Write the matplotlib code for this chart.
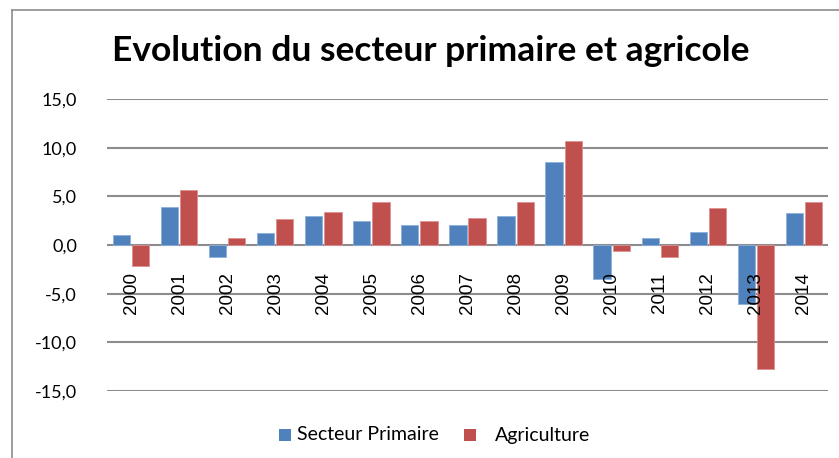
import numpy as np
import matplotlib
matplotlib.use("Agg")
import matplotlib.pyplot as plt
from matplotlib.lines import Line2D
from matplotlib.patches import Rectangle

# données
annees = ["2000", "2001", "2002", "2003", "2004", "2005", "2006", "2007",
          "2008", "2009", "2010", "2011", "2012", "2013", "2014"]
secteur_primaire = [1.0, 3.9, -1.2, 1.2, 3.0, 2.5, 2.1, 2.1, 3.0, 8.5, -3.5, 0.7, 1.35, -6.05, 3.25]
agriculture = [-2.2, 5.7, 0.7, 2.65, 3.4, 4.4, 2.45, 2.8, 4.4, 10.7, -0.6, -1.2, 3.8, -12.7, 4.4]
yticks = [-15, -10, -5, 0, 5, 10, 15]

W, H = 839, 458
px = 72 / 100  # pixels -> points
fig = plt.figure(figsize=(W / 100, H / 100), dpi=100)
ax = fig.add_axes([107 / W, (H - 391) / H, (828 - 107) / W, (391 - 99) / H])

x = np.arange(len(annees))
larg = 0.36
ax.bar(x - 0.2, secteur_primaire, larg, color="#4F81BD", edgecolor="#8DB0DA", linewidth=0.6, zorder=3)
ax.bar(x + 0.2, agriculture, larg, color="#C0504D", edgecolor="#DC9290", linewidth=0.6, zorder=3)

ax.set_xlim(-0.5, len(annees) - 0.5)
ax.set_ylim(-15, 15)
ax.set_yticks(yticks)
ax.set_yticklabels([f"{v:.1f}".replace(".", ",") for v in yticks], family="Lato", fontsize=13)
ax.yaxis.grid(True, color="#8C8C8C", linewidth=1.5, zorder=0)
ax.tick_params(axis="y", length=0, pad=30 * px)
ax.set_xticks([])
for s in ax.spines.values():
    s.set_visible(False)

# années sous l'axe zéro, par-dessus les barres
for i, a in enumerate(annees):
    ax.annotate(a, (i, 0), xytext=(0, -27.5 * px), textcoords="offset points",
                rotation=90, ha="center", va="top", family="Liberation Sans",
                fontsize=13.5, zorder=5, annotation_clip=False)

fig.text(431 / W, 1 - 51 / H, "Evolution du secteur primaire et agricole",
         ha="center", va="center", family="Lato", fontweight="bold", fontsize=25.5)

# légende
leg_y = 435
for sx, tx, col, lab in [(279, 297, "#4F81BD", "Secteur Primaire"),
                         (464, 495, "#C0504D", "Agriculture")]:
    fig.add_artist(Rectangle((sx / W, 1 - (leg_y + 6) / H), 12 / W, 12 / H,
                             facecolor=col, edgecolor="none", transform=fig.transFigure))
    fig.text(tx / W, 1 - leg_y / H, lab, ha="left", va="center", family="Lato", fontsize=14)

# cadre du graphique
fig.add_artist(Line2D([12 / W, 12 / W], [0, 1 - 10 / H], color="#8C8C8C", linewidth=1.2))
fig.add_artist(Line2D([12 / W, 1], [1 - 10 / H, 1 - 10 / H], color="#8C8C8C", linewidth=1.2))

fig.savefig("out.png", dpi=100)
